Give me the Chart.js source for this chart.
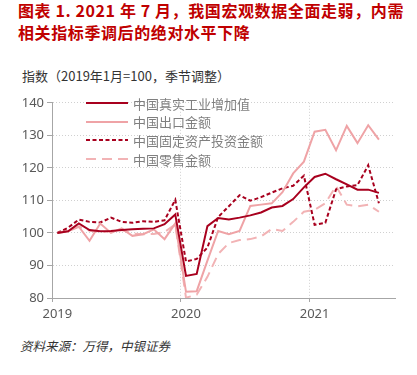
<!DOCTYPE html>
<html>
<head>
<meta charset="utf-8">
<script src="https://cdn.jsdelivr.net/npm/chart.js@4.4.1/dist/chart.umd.min.js"></script>
<style>
  body { margin: 0; width: 417px; height: 375px; background: #fff; position: relative; overflow: hidden;
         font-family: "Noto Sans CJK SC", "Noto Sans", sans-serif; }
  .title { position: absolute; left: 18px; top: -1px; color: #C00000; font-weight: bold; font-size: 16px;
           line-height: 22px; letter-spacing: 0.6px; white-space: nowrap; }
  .subtitle { position: absolute; left: 22px; top: 66px; font-size: 13px; color: #333; white-space: nowrap; }
  .wrap { position: absolute; left: 0; top: 92px; width: 417px; height: 230px; }
  .legend { position: absolute; left: 86px; top: 94px; }
  .legend div { height: 18.6px; display: flex; align-items: center; font-size: 13px; color: #7F7F7F; white-space: nowrap; }
  .legend svg { margin-right: 5px; }
  .source { position: absolute; left: 20px; top: 336px; font-size: 12.5px; color: #333; font-style: italic; white-space: nowrap; }
</style>
</head>
<body>
<div class="title">图表 1. 2021 年 7 月，我国宏观数据全面走弱，内需<br>相关指标季调后的绝对水平下降</div>
<div class="subtitle">指数（2019年1月=100，季节调整）</div>
<div class="wrap"><canvas id="chart"></canvas></div>
<div class="legend" id="legend"></div>
<div class="source">资料来源：万得，中银证券</div>
<script>
// months 2019-01 .. 2021-08 (last month has no data yet)
const months = [];
for (let y = 2019; y <= 2021; y++) {
    for (let m = 1; m <= 12; m++) {
        if (y === 2021 && m > 8) break;
        months.push(y + '-' + String(m).padStart(2, '0'));
    }
}

const seriesNames = ['中国真实工业增加值', '中国出口金额', '中国固定资产投资金额', '中国零售金额'];

const industry = [100, 100.5, 102.9, 100.9, 100.5, 100.6, 100.9, 101.1, 101.3, 101.4, 102.7, 105.7,
    86.8, 87.4, 102.1, 104.6, 104.1, 104.7, 105.4, 106.3, 107.8, 108.3, 110.4, 114.0,
    117.2, 118.2, 116.5, 114.9, 113.3, 113.3, 112.3];
const exports = [100, 100.5, 101.9, 97.6, 102.9, 100.0, 101.4, 99.1, 99.6, 101.1, 98.1, 102.9,
    81.9, 82.1, 91.5, 100.6, 99.6, 100.6, 108.3, 108.7, 109.1, 112.5, 118.3, 121.9,
    131.1, 131.7, 125.4, 132.9, 127.6, 133.1, 128.7];
const fai = [100, 101.6, 104.1, 103.4, 103.2, 104.7, 103.4, 103.1, 103.6, 103.4, 103.9, 110.2,
    91.2, 92.0, 95.5, 104.9, 108.2, 111.6, 109.9, 111.0, 112.4, 113.7, 114.5, 117.6,
    102.5, 103.1, 113.4, 114.3, 114.7, 120.8, 109.1];
const retail = [100, 100.8, 102.0, 100.7, 100.2, 100.5, 100.9, 99.8, 99.6, 99.7, 100.3, 102.6,
    80.1, 81.0, 86.5, 93.5, 96.9, 97.8, 98.1, 98.9, 101.2, 100.6, 103.4, 106.5,
    107.1, 109.1, 114.4, 108.7, 108.2, 108.7, 106.5];

const yTicks = [80, 90, 100, 110, 120, 130, 140];

const darkRed = '#A8001E';
const pink = '#EFA3A6';
const pinkDash = '#F2B3B5';
const axisGray = '#A6A6A6';
const gridGray = '#D0D0D0';

const styles = [
    { color: darkRed, dash: [] },
    { color: pink, dash: [] },
    { color: darkRed, dash: [4, 2.5] },
    { color: pinkDash, dash: [10, 6] }
];

const seriesData = [industry, exports, fai, retail];

Chart.defaults.font.family = '"Noto Sans", "Noto Sans CJK SC", sans-serif';
Chart.defaults.font.size = 13;
Chart.defaults.color = '#595959';

const isYearStart = (ctx) => ctx.type === 'tick' && ctx.index % 12 === 0;

new Chart(document.getElementById('chart'), {
    type: 'line',
    data: {
        labels: months,
        datasets: seriesData.map((d, i) => ({
            label: seriesNames[i],
            data: d,
            borderColor: styles[i].color,
            borderDash: styles[i].dash,
            borderWidth: 2,
            pointRadius: 0,
            tension: 0,
            fill: false
        }))
    },
    options: {
        responsive: true,
        maintainAspectRatio: false,
        animation: false,
        layout: { padding: { top: 10, right: 22, left: 0, bottom: 0 } },
        plugins: { legend: { display: false }, tooltip: { enabled: false } },
        scales: {
            x: {
                type: 'category',
                offset: true,
                afterFit: (s) => { s.height = 24; },
                grid: {
                    offset: true,
                    color: (ctx) => isYearStart(ctx) ? gridGray : 'rgba(0,0,0,0)',
                    tickColor: (ctx) => isYearStart(ctx) ? axisGray : 'rgba(0,0,0,0)',
                    tickLength: 4,
                    tickBorderDash: [],
                    lineWidth: 1
                },
                border: { display: true, color: axisGray, width: 1, dash: [1, 2] },
                ticks: {
                    autoSkip: false,
                    maxRotation: 0,
                    padding: 4,
                    callback: function (val) {
                        const l = this.getLabelForValue(val);
                        return l.endsWith('-01') ? l.slice(0, 4) : '';
                    }
                }
            },
            y: {
                min: yTicks[0],
                max: yTicks[yTicks.length - 1],
                afterFit: (s) => { s.width = 52; },
                afterBuildTicks: (s) => { s.ticks = yTicks.map(v => ({ value: v })); },
                grid: {
                    color: gridGray,
                    tickColor: axisGray,
                    tickLength: 5,
                    tickBorderDash: []
                },
                border: { display: true, color: axisGray, width: 1, dash: [1, 2] },
                ticks: { padding: 3 }
            }
        }
    }
});

// legend drawn inside the plot area
const legend = document.getElementById('legend');
seriesNames.forEach((name, i) => {
    const row = document.createElement('div');
    const st = styles[i];
    row.innerHTML = `<svg width="42" height="4"><line x1="0" y1="2" x2="42" y2="2" stroke="${st.color}" stroke-width="2" stroke-dasharray="${st.dash.join(',') || 'none'}"/></svg>${name}`;
    legend.appendChild(row);
});
</script>
</body>
</html>
